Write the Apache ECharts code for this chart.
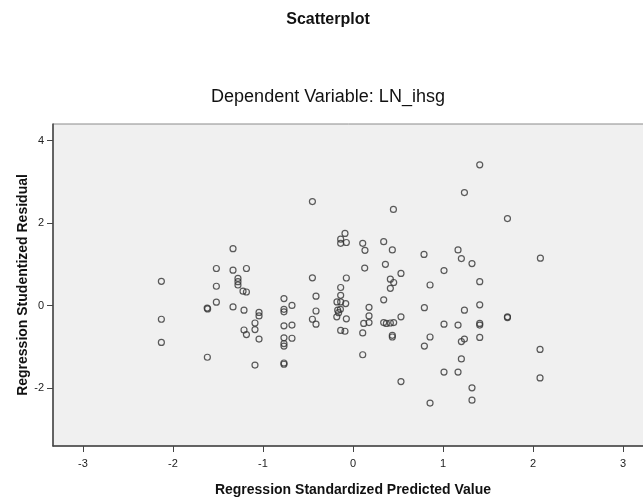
<!DOCTYPE html>
<html>
<head>
<meta charset="utf-8">
<script src="https://cdn.jsdelivr.net/npm/echarts@6/dist/echarts.min.js"></script>
<style>
html,body{margin:0;padding:0;background:#fff;}
#chart{width:643px;height:497px;}
</style>
</head>
<body>
<div id="chart"></div>
<script>
// Regression standardized predicted values (x) and studentized residuals (y)
var predicted = [
  -2.129, -2.129, -2.129, -1.618, -1.620, -1.615, -1.518, -1.518, -1.518, -1.333,
  -1.333, -1.333, -1.278, -1.278, -1.278, -1.222, -1.184, -1.184, -1.211, -1.211,
  -1.184, -1.044, -1.044, -1.089, -1.089, -1.044, -1.089, -0.767, -0.767, -0.767,
  -0.678, -0.767, -0.678, -0.767, -0.678, -0.767, -0.767, -0.767, -0.767, -0.451,
  -0.451, -0.411, -0.411, -0.451, -0.411, -0.089, -0.137, -0.137, -0.074, -0.074,
  -0.137, -0.137, -0.178, -0.137, -0.081, -0.170, -0.140, -0.160, -0.180, -0.074,
  -0.137, -0.089, 0.108, 0.133, 0.130, 0.178, 0.178, 0.119, 0.178, 0.108,
  0.108, 0.341, 0.360, 0.341, 0.449, 0.437, 0.415, 0.452, 0.415, 0.533,
  0.341, 0.371, 0.415, 0.452, 0.437, 0.437, 0.533, 0.533, 0.789, 0.856,
  0.793, 0.856, 0.793, 0.856, 1.011, 1.011, 1.011, 1.167, 1.204, 1.322,
  1.238, 1.408, 1.408, 1.408, 1.238, 1.167, 1.408, 1.408, 1.238, 1.204,
  1.408, 1.204, 1.167, 1.322, 1.322, 1.716, 1.716, 1.716, 2.082, 2.078,
  2.078
];
var residual = [
  0.59, -0.33, -0.89, -1.25, -0.06, -0.08, 0.90, 0.47, 0.085, 1.38,
  0.86, -0.03, 0.66, 0.58, 0.50, 0.35, 0.33, 0.90, -0.11, -0.59,
  -0.70, -0.165, -0.25, -0.42, -0.58, -0.81, -1.44, 0.17, -0.09, -0.15,
  0.005, -0.49, -0.47, -0.78, -0.79, -0.92, -0.98, -1.39, -1.42, 2.52,
  0.675, 0.23, -0.13, -0.33, -0.45, 1.75, 1.61, 1.51, 1.53, 0.67,
  0.44, 0.25, 0.09, 0.09, 0.05, -0.11, -0.09, -0.17, -0.27, -0.32,
  -0.60, -0.62, 1.51, 1.34, 0.91, -0.04, -0.25, -0.43, -0.41, -0.66,
  -1.19, 1.55, 1.00, 0.14, 2.33, 1.35, 0.64, 0.56, 0.42, 0.78,
  -0.41, -0.43, -0.42, -0.41, -0.72, -0.76, -0.27, -1.84, 1.24, 0.50,
  -0.05, -0.76, -0.98, -2.36, 0.85, -0.45, -1.61, 1.35, 1.14, 1.02,
  2.74, 3.41, 0.58, 0.02, -0.11, -0.47, -0.43, -0.47, -0.81, -0.87,
  -0.77, -1.29, -1.61, -1.99, -2.29, 2.11, -0.27, -0.29, 1.15, -1.06,
  -1.75
];
var xTicks = [-3, -2, -1, 0, 1, 2, 3];
var yTicks = [-2, 0, 2, 4];
var titleText = 'Scatterplot';
var subtitleText = 'Dependent Variable: LN_ihsg';
var xName = 'Regression Standardized Predicted Value';
var yName = 'Regression Studentized Residual';

var points = predicted.map(function (x, i) { return [x, residual[i]]; });

var chart = echarts.init(document.getElementById('chart'), null, {renderer: 'canvas'});
var font = 'Liberation Sans, Arial, sans-serif';
chart.setOption({
  backgroundColor: '#ffffff',
  animation: false,
  graphic: [
    {type: 'text', x: 328, y: 20, style: {text: titleText, font: 'bold 16px ' + font, fill: '#111', align: 'center', verticalAlign: 'middle'}, z: 10},
    {type: 'text', x: 328, y: 97, style: {text: subtitleText, font: '18px ' + font, fill: '#111', align: 'center', verticalAlign: 'middle'}, z: 10}
  ],
  grid: {
    left: 53, top: 124, width: 600, height: 322,
    outerBoundsMode: 'none', containLabel: false,
    show: true, backgroundColor: '#f0f0f0', borderColor: '#8a8a8a', borderWidth: 1
  },
  xAxis: {
    type: 'value', min: -3.333, max: 3.333,
    splitLine: {show: false},
    axisLine: {show: true, onZero: false, lineStyle: {color: '#444', width: 1.5}},
    axisTick: {show: true, length: 6, lineStyle: {color: '#444'}, customValues: xTicks},
    axisLabel: {customValues: xTicks, color: '#222', fontSize: 11, fontFamily: font, margin: 12},
    name: xName, nameLocation: 'middle', nameGap: 37, nameMoveOverlap: false,
    nameTextStyle: {fontWeight: 'bold', fontSize: 14, fontFamily: font, color: '#111'}
  },
  yAxis: {
    type: 'value', min: -3.4, max: 4.4,
    splitLine: {show: false},
    axisLine: {show: true, onZero: false, lineStyle: {color: '#444', width: 1.5}},
    axisTick: {show: true, length: 6, lineStyle: {color: '#444'}, customValues: yTicks},
    axisLabel: {customValues: yTicks, color: '#222', fontSize: 11, fontFamily: font, margin: 9},
    name: yName, nameLocation: 'middle', nameGap: 23, nameRotate: 90, nameMoveOverlap: false,
    nameTextStyle: {fontWeight: 'bold', fontSize: 14, fontFamily: font, color: '#111'}
  },
  series: [{
    type: 'scatter',
    data: points,
    symbol: 'circle',
    symbolSize: 6,
    itemStyle: {color: 'rgba(0,0,0,0)', borderColor: '#333', borderWidth: 1.2},
    emphasis: {disabled: true}
  }]
});
</script>
</body>
</html>
